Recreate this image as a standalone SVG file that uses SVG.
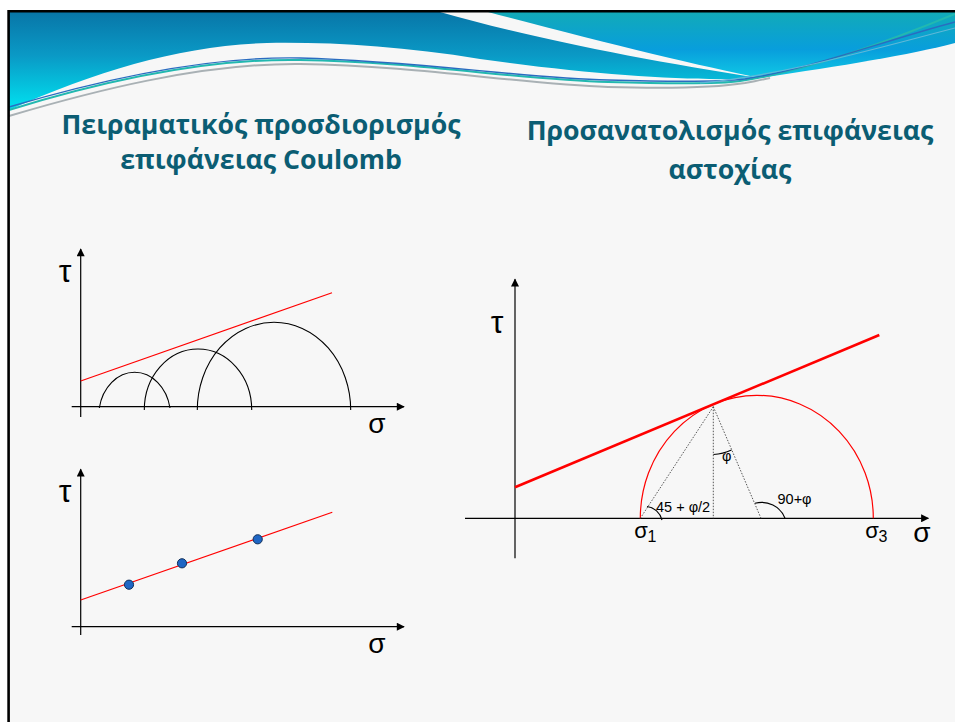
<svg xmlns="http://www.w3.org/2000/svg" width="955" height="722" viewBox="0 0 955 722">
<defs>
<linearGradient id="gl" gradientUnits="userSpaceOnUse" x1="0" y1="12" x2="0" y2="110">
<stop offset="0" stop-color="#0876a8"/>
<stop offset="0.45" stop-color="#0a9ac6"/>
<stop offset="1" stop-color="#00e2f0"/>
</linearGradient>
<linearGradient id="gr" gradientUnits="userSpaceOnUse" x1="0" y1="12" x2="0" y2="80">
<stop offset="0" stop-color="#12aab8"/>
<stop offset="0.55" stop-color="#089edc"/>
<stop offset="1" stop-color="#10cce6"/>
</linearGradient>
<marker id="ah" viewBox="0 0 10 10" refX="9" refY="5" markerWidth="9" markerHeight="8" markerUnits="userSpaceOnUse" orient="auto">
<path d="M0,0 L10,5 L0,10 Z" fill="#000"/>
</marker>
<style>
.ttl{font-family:"Open Sans","Liberation Sans",sans-serif;font-weight:bold;font-size:26.7px;fill:#0b5d73;text-anchor:middle}
.ax{stroke:#000;stroke-width:1.2;fill:none}
.big{font-family:"Liberation Sans",Arial,sans-serif;fill:#000;text-anchor:middle}
.arc{stroke:#000;stroke-width:1.1;fill:none}
.red{stroke:#ff0000;fill:none}
.dot{stroke:#444;stroke-width:0.9;stroke-dasharray:1.5 1.5;fill:none}
.lbl{font-family:"Liberation Sans",Arial,sans-serif;font-size:14.5px;fill:#000}
.pt{fill:#1f66c4;stroke:#12305a;stroke-width:1}
.wv{fill:none}
</style>
</defs>
<rect x="0" y="0" width="955" height="722" fill="#ffffff"/>
<rect x="9" y="12" width="946" height="710" fill="#f7f7f7"/>
<g id="header">
<path d="M9,12 L440,12 C520,35 640,60 760,78 C700,82 600,76 480,59 C400,46 330,42 267,43 C180,46 100,70 9,110 Z" fill="url(#gl)"/>
<path d="M488,12 L955,12 L955,43 C910,55 840,66 760,78 C700,66 600,42 488,12 Z" fill="url(#gr)"/>
<path class="wv" d="M9,116 C90,92 200,63 300,64 C420,66 520,84 608,87 C680,89 720,87 745,83 C755,81 762,80 770,78" stroke="#a9b1b5" stroke-width="2"/>
<path class="wv" d="M9,110 C90,85 200,58 300,60 C420,62 520,80 608,82 C680,84 720,84 740,81 C800,72 880,45 955,14" stroke="#22b8b0" stroke-width="2"/>
<path class="wv" d="M9,107 C90,83 200,56 300,58 C420,61 520,78 608,80 C680,82 720,82 745,79 C810,69 880,42 955,22" stroke="#2a6cc0" stroke-width="1.4"/>
<path class="wv" d="M700,83 C780,76 870,50 955,28" stroke="#60b8d8" stroke-width="1.2"/>
</g>
<path d="M8.6,722 L8.6,11.3 L955,11.3" fill="none" stroke="#000" stroke-width="2.6"/>
<g id="title1">
<text class="ttl" x="261" y="134">Πειραματικός προσδιορισμός</text>
<text class="ttl" x="261" y="168.5">επιφάνειας Coulomb</text>
</g>
<g id="title2">
<text class="ttl" x="730" y="139.5">Προσανατολισμός επιφάνειας</text>
<text class="ttl" x="730" y="178.5">αστοχίας</text>
</g>
<g id="chart1">
<line class="ax" x1="80.7" y1="417" x2="80.7" y2="249" marker-end="url(#ah)"/>
<line class="ax" x1="71.7" y1="406.7" x2="404" y2="406.7" marker-end="url(#ah)"/>
<text class="big" x="65" y="282" font-size="32">τ</text>
<text class="big" x="377" y="433" font-size="28">σ</text>
<path class="arc" d="M99.3,408 A36,44 0 0 1 170,408"/>
<path class="arc" d="M144.3,410 A53.7,61 0 0 1 251.7,410"/>
<path class="arc" d="M197.3,410 A76.7,87.7 0 0 1 350.7,410"/>
<line class="red" stroke-width="1.2" x1="80.7" y1="381" x2="332" y2="292.7"/>
</g>
<g id="chart2">
<line class="ax" x1="80.7" y1="635" x2="80.7" y2="469.3" marker-end="url(#ah)"/>
<line class="ax" x1="71.7" y1="626.7" x2="404" y2="626.7" marker-end="url(#ah)"/>
<text class="big" x="65" y="502" font-size="32">τ</text>
<text class="big" x="377" y="653" font-size="28">σ</text>
<line class="red" stroke-width="1.2" x1="80.7" y1="600" x2="332.3" y2="512.3"/>
<circle class="pt" cx="129" cy="584.7" r="4.6"/>
<circle class="pt" cx="182" cy="563.3" r="4.6"/>
<circle class="pt" cx="257.7" cy="539.3" r="4.6"/>
</g>
<g id="chart3">
<line class="ax" x1="515" y1="558.3" x2="515" y2="279.3" marker-end="url(#ah)"/>
<line class="ax" x1="465" y1="518.3" x2="928.3" y2="518.3" marker-end="url(#ah)"/>
<text class="big" x="497" y="333" font-size="32">τ</text>
<text class="big" x="922" y="542" font-size="28">σ</text>
<path class="red" stroke-width="1.2" d="M640.3,518.3 A116.5,123 0 0 1 873.3,518.3"/>
<line class="red" stroke-width="2.6" x1="515" y1="487.3" x2="879.3" y2="335"/>
<line class="dot" x1="713.3" y1="406.7" x2="640.3" y2="518.3"/>
<line class="dot" x1="713.3" y1="406.7" x2="713.3" y2="518.3"/>
<line class="dot" x1="713.3" y1="406.7" x2="761" y2="518.3"/>
<path class="arc" d="M647,506.5 A18,18 0 0 1 662,520"/>
<path class="arc" d="M755,503.3 A25,25 0 0 1 785,518.3"/>
<path class="arc" d="M713.5,454.5 A48,48 0 0 0 731.5,450"/>
<text class="lbl" x="656" y="512">45 + φ/2</text>
<text class="lbl" x="777.5" y="504">90+φ</text>
<text class="lbl" x="722" y="461">φ</text>
<text class="big" x="641" y="538" font-size="22">σ</text>
<text class="big" x="652" y="542" font-size="16">1</text>
<text class="big" x="872" y="538" font-size="22">σ</text>
<text class="big" x="883" y="542" font-size="16">3</text>
</g>
</svg>
